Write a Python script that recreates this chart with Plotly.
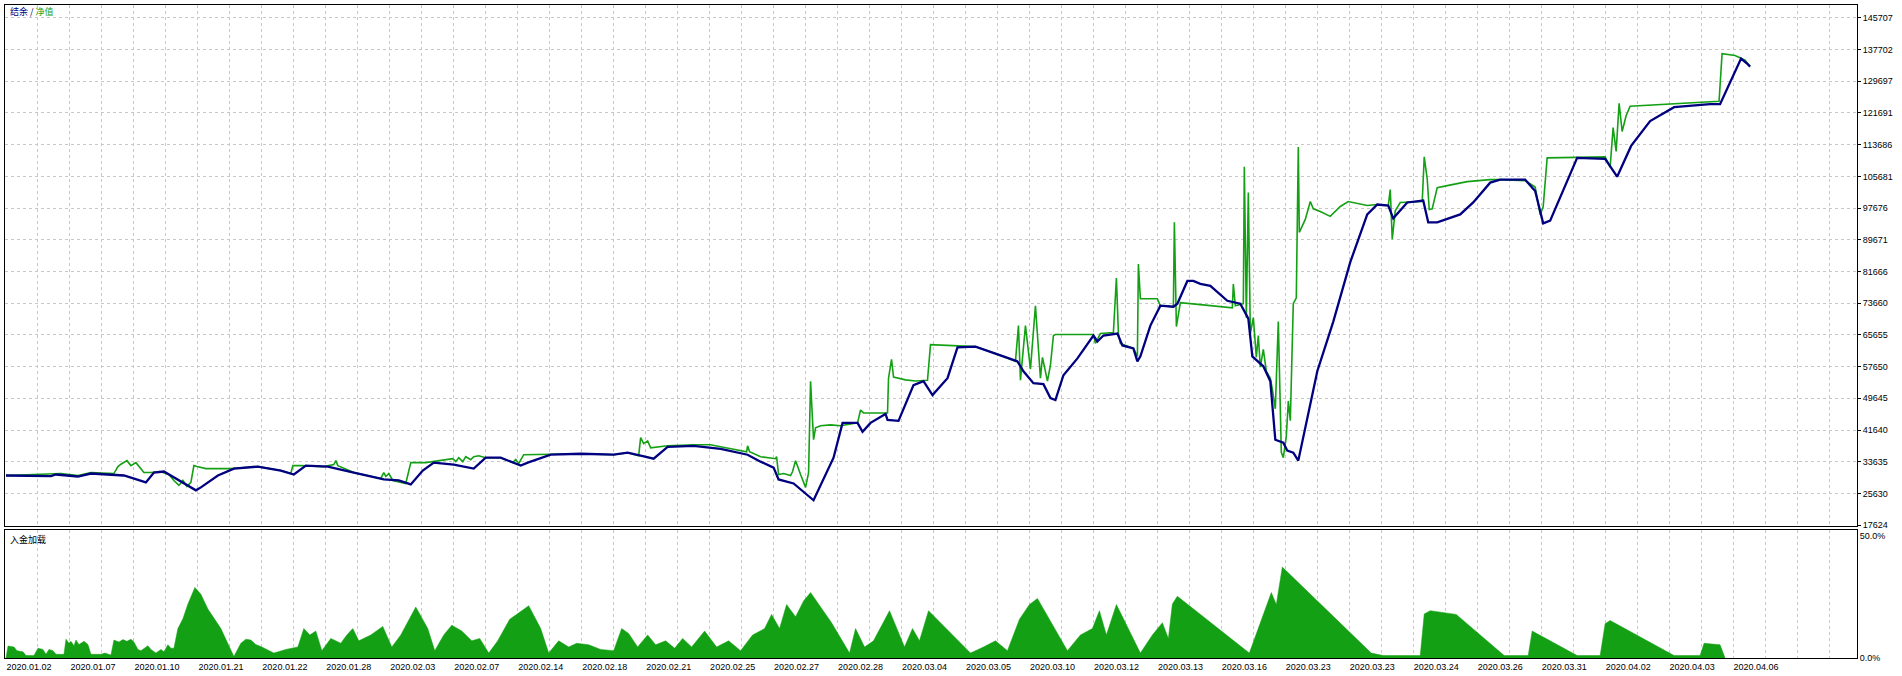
import plotly.graph_objects as go

# ---------------- data (trade number -> account value) ----------------
balance_x = [5, 43, 50, 55, 77, 90, 113, 123, 145, 153, 163, 173, 195, 200, 217, 233, 257, 280, 293, 305,
             327, 353, 383, 398, 410, 422, 433, 453, 473, 485, 500, 520, 527, 550, 580, 613, 627, 640, 653, 667,
             693, 720, 747, 760, 773, 778, 793, 813, 833, 842, 857, 862, 870, 885, 887, 898, 913, 923, 932, 947,
             957, 975, 1000, 1017, 1023, 1033, 1043, 1050, 1055, 1063, 1077, 1093, 1097, 1103, 1117, 1122, 1133,
             1137, 1140, 1150, 1160, 1173, 1177, 1187, 1193, 1200, 1210, 1227, 1240, 1248, 1252, 1263, 1270, 1275,
             1283, 1287, 1293, 1298, 1317, 1333, 1350, 1367, 1377, 1388, 1393, 1407, 1423, 1428, 1437, 1460, 1473,
             1490, 1500, 1525, 1535, 1543, 1550, 1577, 1605, 1617, 1631, 1650, 1674, 1710, 1720, 1741, 1747, 1750]
balance = [30150, 30150, 30000, 30400, 29900, 30650, 30400, 30150, 28400, 30900, 31150, 29650, 26400, 27150, 30150,
           31900, 32400, 31400, 30400, 32650, 32400, 30900, 29150, 28900, 27900, 31400, 33400, 32900, 31900, 34650,
           34650, 32650, 33400, 35400, 35650, 35400, 35900, 35150, 34400, 37400, 37650, 36900, 35400, 33650, 32150,
           29150, 28150, 23900, 34650, 43440, 43440, 41190, 43440, 45700, 44200, 43940, 52960, 53970, 50460, 54720,
           62500, 62700, 60500, 58980, 56480, 53470, 53220, 49710, 49200, 55470, 59730, 65500, 63990, 65500, 66000,
           62990, 62240, 58980, 60230, 68000, 73020, 72770, 73520, 79280, 79280, 78530, 78030, 74270, 73520, 69760,
           60230, 57730, 53970, 39180, 38430, 36420, 35920, 33910, 56480, 69010, 84040, 96080, 98580, 98330, 95080,
           99090, 99590, 94070, 94070, 96080, 99090, 104100, 104850, 104850, 102000, 93820, 94500, 110360, 110100,
           105600, 113370, 119640, 123150, 123900, 123900, 135430, 134180, 133400]

equity_x = [5, 40, 60, 77, 90, 113, 117, 120, 126, 130, 135, 143, 150, 159, 168, 173, 178, 182, 186, 190,
            193, 196, 205, 230, 257, 280, 290, 292, 300, 323, 333, 335, 337, 353, 380, 383, 385, 388, 392, 405,
            410, 425, 433, 452, 455, 458, 462, 465, 470, 473, 478, 485, 500, 512, 515, 518, 523, 550, 580, 613,
            627, 638, 640, 643, 647, 650, 660, 667, 693, 710, 720, 740, 746, 747, 749, 760, 775, 776, 778, 783,
            790, 792, 795, 800, 805, 808, 810, 812, 813, 815, 820, 830, 840, 857, 860, 863, 887, 888, 891, 893,
            905, 915, 927, 930, 975, 1000, 1015, 1018, 1020, 1025, 1030, 1035, 1040, 1042, 1047, 1050, 1053, 1055,
            1093, 1095, 1100, 1113, 1116, 1118, 1120, 1133, 1137, 1138, 1140, 1157, 1160, 1173, 1174, 1176, 1180,
            1200, 1220, 1232, 1233, 1235, 1243, 1244, 1246, 1248, 1250, 1253, 1256, 1258, 1260, 1263, 1266, 1270,
            1272, 1275, 1278, 1281, 1283, 1286, 1288, 1290, 1293, 1296, 1298, 1299, 1305, 1310, 1313, 1320, 1330,
            1340, 1348, 1367, 1377, 1388, 1390, 1392, 1395, 1400, 1422, 1424, 1427, 1429, 1432, 1437, 1447, 1467,
            1490, 1500, 1525, 1535, 1540, 1543, 1547, 1605, 1610, 1613, 1616, 1619, 1622, 1626, 1630, 1670, 1700,
            1719, 1722, 1735, 1745, 1750]
equity = [30150, 30400, 30650, 30150, 30900, 30650, 32400, 33000, 33900, 32650, 33400, 30900, 30900, 31150, 30400,
          28900, 27650, 28900, 27400, 28400, 32650, 32400, 31900, 31900, 32400, 31400, 30650, 32650, 32650, 32400,
          32900, 33900, 32650, 30900, 29400, 30900, 29900, 30650, 28900, 28150, 33400, 33400, 33650, 34400, 33650,
          34650, 33650, 34900, 34150, 34900, 35150, 34650, 34650, 33400, 34200, 33200, 35400, 35500, 35650, 35400,
          35900, 35150, 39700, 38200, 38900, 37150, 37400, 37650, 37900, 37900, 37400, 36400, 36150, 37650, 36150,
          34900, 34400, 34900, 30400, 30650, 30150, 31150, 33900, 30400, 27150, 30900, 53970, 44000, 39200, 42200,
          42700, 42940, 42700, 43440, 46700, 45950, 45950, 54720, 59500, 55000, 54300, 54000, 54200, 63200, 62700,
          60500, 58980, 68000, 54220, 68000, 57000, 73020, 54720, 60000, 53970, 58000, 65500, 65750, 65750, 63500,
          66000, 66250, 80040, 66000, 63500, 62240, 60230, 83540, 74770, 74770, 73020, 72770, 94070, 67750, 73800,
          73300, 72800, 72500, 78500, 73000, 73520, 108110, 70000, 101600, 66000, 70000, 60000, 65500, 57500, 62000,
          56500, 54720, 52000, 47000, 69010, 36000, 34670, 40000, 48950, 44000, 73520, 75000, 113120, 91560, 94820,
          99340, 97500, 96830, 95580, 98080, 99340, 98330, 98580, 98330, 102340, 89800, 97000, 99090, 99340, 110610,
          105000, 97330, 97500, 102840, 103340, 104350, 104850, 104850, 104600, 103000, 96000, 98000, 110360, 110600,
          108000, 118000, 112000, 124150, 117000, 121000, 123400, 123900, 124400, 124650, 136680, 136180, 135000,
          133400]

load_x = [5, 7, 13, 16, 22, 25, 33, 37, 42, 45, 48, 52, 55, 63, 65, 68, 70, 73, 75, 78, 80, 83, 87, 90, 100,
          104, 110, 113, 118, 122, 126, 130, 133, 137, 140, 147, 150, 155, 160, 163, 167, 170, 173, 177, 182, 187,
          194, 200, 207, 220, 233, 240, 245, 250, 255, 261, 273, 285, 297, 303, 309, 315, 321, 330, 340, 346, 352,
          358, 370, 382, 391, 400, 415, 427, 434, 443, 451, 461, 471, 479, 488, 497, 509, 528, 540, 548, 558, 568,
          576, 588, 600, 613, 621, 628, 637, 647, 655, 665, 674, 682, 691, 704, 716, 728, 740, 752, 764, 771, 779,
          786, 795, 803, 810, 831, 849, 855, 864, 873, 889, 904, 912, 919, 928, 970, 983, 995, 1007, 1019, 1029,
          1037, 1067, 1080, 1092, 1099, 1106, 1116, 1140, 1152, 1162, 1168, 1172, 1177, 1249, 1262, 1271, 1276,
          1282, 1371, 1383, 1420, 1424, 1430, 1456, 1504, 1528, 1532, 1577, 1600, 1605, 1610, 1674, 1700, 1704,
          1720, 1725]
load_pct = [0, 4.9, 4.5, 3, 2.5, 1, 1, 4, 3.5, 1.5, 3.5, 3, 1.5, 1.5, 7.7, 6, 6.8, 5, 7.3, 5.5, 6, 6.8, 5.5, 1.5,
            1.5, 2, 1.2, 7.3, 6.5, 7.5, 6.8, 7.7, 6.5, 3.5, 3, 5, 3.5, 2, 3.5, 2.5, 5.4, 4, 4, 12, 16, 22, 28.8,
            26, 20, 12, 0.6, 6, 7.7, 7.3, 5.5, 4.5, 2, 3.5, 4.5, 12, 9.4, 11, 3, 8, 6, 9.4, 12, 7, 9.4, 12.9, 4.5,
            9.4, 20.8, 12, 3, 9.4, 13.4, 11, 7, 8, 2, 7, 15.8, 21.3, 12, 2, 7, 4.5, 6, 5.4, 3.5, 3, 12, 10, 4.5,
            9.4, 5.4, 7, 4, 8, 4.5, 11, 4.5, 7, 3, 9.4, 12, 17.8, 12, 21.8, 16.8, 23.3, 26.7, 14.4, 2, 12, 4.5, 7,
            19.3, 4.5, 12, 7, 19.3, 2, 4.5, 7, 3, 15.8, 21.8, 24.3, 3, 9.4, 12, 19.3, 9.4, 21.8, 2, 9.4, 14.4, 8,
            22, 25.2, 2, 16.8, 26.7, 21.8, 37.1, 2, 1, 1, 18, 19.3, 17.8, 1, 1, 11, 1, 1, 14, 15.3, 1, 1, 6, 5.4, 0]

y_ticks = [17624, 25630, 33635, 41640, 49645, 57650, 65655, 73660, 81666, 89671, 97676, 105681, 113686,
           121691, 129697, 137702, 145707]
date_labels = ["2020.01.02", "2020.01.07", "2020.01.10", "2020.01.21", "2020.01.22", "2020.01.28", "2020.02.03",
               "2020.02.07", "2020.02.14", "2020.02.18", "2020.02.21", "2020.02.25", "2020.02.27", "2020.02.28",
               "2020.03.04", "2020.03.05", "2020.03.10", "2020.03.12", "2020.03.13", "2020.03.16", "2020.03.23",
               "2020.03.23", "2020.03.24", "2020.03.26", "2020.03.31", "2020.04.02", "2020.04.03", "2020.04.06"]

# ---------------- styling ----------------
NAVY = "#000080"
GREEN = "#14a014"
GRID = "#c8c8c8"
DASH = "3px,3px"
FONT = "Liberation Sans"
W, H = 1902, 676
L, R, T, B = 4, 45, 4, 16
plot_h = H - T - B
main_bottom_px = 527
lower_top_px = 531
plot_bottom_px = 660

grid_step = 32
x_vals = [5 + grid_step * k for k in range(58)]
x_text = [date_labels[k // 2] if k % 2 == 0 and k // 2 < len(date_labels) else "" for k in range(58)]

fig = go.Figure()
fig.add_trace(go.Scatter(x=equity_x, y=equity, mode="lines", line=dict(color=GREEN, width=1.6),
                         xaxis="x", yaxis="y", showlegend=False, hoverinfo="skip"))
fig.add_trace(go.Scatter(x=balance_x, y=balance, mode="lines", line=dict(color=NAVY, width=2.3),
                         xaxis="x", yaxis="y", showlegend=False, hoverinfo="skip"))
fig.add_trace(go.Scatter(x=load_x, y=load_pct, mode="lines", fill="tozeroy", fillcolor=GREEN,
                         line=dict(color=GREEN, width=0.5), xaxis="x2", yaxis="y2",
                         showlegend=False, hoverinfo="skip"))

axis_common = dict(showline=True, mirror=True, linecolor="black", linewidth=1, zeroline=False)
fig.update_layout(
    width=W, height=H, margin=dict(l=L, r=R, t=T, b=B),
    paper_bgcolor="white", plot_bgcolor="white",
    font=dict(family=FONT, size=9, color="black"),
    xaxis=dict(domain=[0, 1], range=[4, 1857], tickvals=x_vals, ticktext=[""] * 58,
               showgrid=True, gridcolor=GRID, griddash=DASH, gridwidth=1, ticks="",
               showticklabels=False, anchor="y", **axis_common),
    yaxis=dict(domain=[(plot_bottom_px - main_bottom_px) / plot_h, 1], range=[17500, 148950],
               side="right", tickvals=y_ticks, ticktext=[str(v) for v in y_ticks],
               showgrid=True, gridcolor=GRID, griddash=DASH, gridwidth=1,
               ticks="outside", ticklen=3, tickcolor="black", anchor="x",
               tickfont=dict(family=FONT, size=9, color="black"), **axis_common),
    xaxis2=dict(domain=[0, 1], range=[4, 1857], tickvals=x_vals, ticktext=x_text, matches="x",
                showgrid=True, gridcolor=GRID, griddash=DASH, gridwidth=1, ticks="",
                ticklabelposition="outside right",
                tickfont=dict(family=FONT, size=9, color="black"), anchor="y2", **axis_common),
    yaxis2=dict(domain=[0, (plot_bottom_px - lower_top_px) / plot_h], range=[0, 52.4],
                side="right", tickvals=[0, 50], ticktext=["0.0%", "50.0%"], showgrid=False,
                ticks="", anchor="x2", tickfont=dict(family=FONT, size=9, color="black"), **axis_common),
)

fig.add_annotation(xref="paper", yref="paper", x=(7 - L) / (W - L - R), y=1 - (11 - T) / plot_h,
                   xanchor="left", yanchor="middle", showarrow=False,
                   text="<span style='color:%s'>结余 / </span><span style='color:%s'>净值</span>" % (NAVY, GREEN),
                   font=dict(family="Noto Sans CJK SC", size=9, color=NAVY))
fig.add_annotation(xref="paper", yref="paper", x=(7 - L) / (W - L - R),
                   y=(plot_bottom_px - 541) / plot_h,
                   xanchor="left", yanchor="middle", showarrow=False, text="入金加载",
                   font=dict(family="Noto Sans CJK SC", size=9, color="black"))

fig.write_html("out.html", config={"displayModeBar": False},
               post_script="document.body.style.margin='0';document.body.style.overflow='hidden';")
